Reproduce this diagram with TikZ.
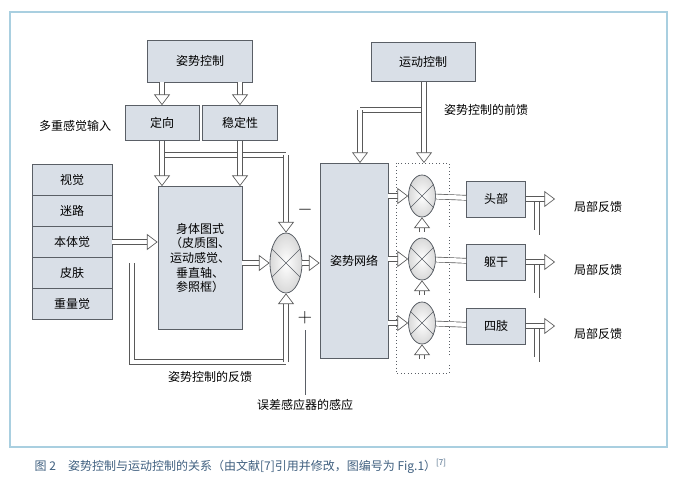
\documentclass[tikz,border=0pt]{standalone}
\usepackage{fontspec}
\setmainfont{Noto Sans CJK SC}
\usetikzlibrary{shapes.geometric, arrows.meta, positioning, calc}
\definecolor{boxfill}{HTML}{D9DFE7}
\definecolor{boxline}{HTML}{5A5F66}
\definecolor{framecol}{HTML}{A9CFE0}
\definecolor{capcol}{HTML}{3F5F7F}
\tikzset{
  blk/.style={draw=boxline, fill=boxfill, line width=0.6pt, font=\small, align=center},
  sumnode/.style={draw=boxline, ellipse, shading=radial, inner color=white, outer color=black!15, line width=0.6pt},
  pipe/.style={draw=black!65, double=white, double distance=3.2pt, line width=0.5pt, -{Triangle[open, fill=white, width=12pt, length=8pt]}},
  pipeline/.style={draw=black!65, double=white, double distance=3.2pt, line width=0.5pt},
  lbl/.style={font=\small},
}
\newcommand{\crossit}[1]{\draw[boxline, line width=0.5pt] (#1.45) -- (#1.225) (#1.135) -- (#1.-45);}
\begin{document}
\begin{tikzpicture}[x=0.75pt, y=-0.75pt]
  \useasboundingbox (0,0) rectangle (674,500);
  \draw[framecol, line width=0.8pt] (10,12) rectangle (667,447);

  % upper blocks
  \node[blk, minimum width=105*0.75pt, minimum height=42*0.75pt] (posctl) at (200,61) {姿势控制};
  \node[blk, minimum width=74*0.75pt, minimum height=35*0.75pt] (orient) at (162,123) {定向};
  \node[blk, minimum width=75*0.75pt, minimum height=35*0.75pt] (stable) at (240,123) {稳定性};
  \node[lbl] (multi) at (75,126) {多重感觉输入};
  \node[blk, minimum width=104*0.75pt, minimum height=39*0.75pt] (motctl) at (423,62) {运动控制};
  \node[lbl] (ffwd) at (486,110) {姿势控制的前馈};

  % sensory stack
  \foreach \t [count=\i] in {视觉, 迷路, 本体觉, 皮肤, 重量觉}
    \node[blk, minimum width=80*0.75pt, minimum height=31*0.75pt] (s\i) at (72,149+31*\i) {\t};

  % body schema and comparator
  \node[blk, minimum width=84*0.75pt, minimum height=143*0.75pt] (body) at (200,258) {身体图式\\（皮质图、\\运动感觉、\\垂直轴、\\参照框）};
  \node[sumnode, minimum width=32*0.75pt, minimum height=60*0.75pt, inner sep=0pt] (sum) at (286,263) {};
  \crossit{sum}
  \node[font=\Large] (minus) at (305,210) {$-$};
  \node[font=\Large] (plus) at (305,318) {$+$};
  \coordinate (errtop) at (305,330);
  \node[lbl] (err) at (305,405) {误差感应器的感应};
  \draw[boxline, line width=0.6pt] (errtop) -- (err.north);

  % posture network
  \node[blk, minimum width=68*0.75pt, minimum height=195*0.75pt] (net) at (354,261) {姿势网络};
  \draw[boxline, dotted, line width=0.6pt] (396,163) rectangle (449,373);

  % effectors
  \foreach \n/\t/\y in {head/头部/199, trunk/躯干/262, limb/四肢/326} {
    \node[sumnode, minimum width=27*0.75pt, minimum height=42*0.75pt, inner sep=0pt] (c\n) at (422,\y-3) {};
    \crossit{c\n}
    \node[blk, minimum width=59*0.75pt, minimum height=36*0.75pt] (\n) at (496,\y) {\t};
    \node[lbl] (fb\n) at (598,\y+8) {局部反馈};
    \coordinate (o\n) at (555,\y);
    \coordinate (r\n) at (537,\y);
    \coordinate (l\n) at ($(c\n.south)+(0,15)$);
    \draw[pipe] (net.east |- c\n) -- (c\n);
    \draw[pipeline] (c\n) -- (\n);
    \draw[pipeline] (r\n) |- (l\n);
    \draw[pipe] (\n) -- (o\n);
    \draw[pipe] (l\n) -- (c\n.south);
  }

  % top-down arrows
  \draw[pipe] (posctl.south -| orient) -- (orient);
  \draw[pipe] (posctl.south -| stable) -- (stable);
  \coordinate (br) at (162,155);
  \coordinate (bre) at (286,155);
  \draw[pipeline] (br) -- (bre);
  \draw[pipe] (bre) -- (sum.north);
  \draw[pipe] (orient) -- (body.north -| orient);
  \draw[pipe] (stable) -- (body.north -| stable);

  % motor control feed-forward
  \coordinate (mbr) at (424,110);
  \coordinate (mbl) at (360,110);
  \coordinate (nettop) at (360,163);
  \draw[pipeline] (mbr) -- (mbl);
  \draw[pipe] (mbl) -- (nettop);
  \draw[pipe] (424,82) -- (424,163);

  % sensory input and feedback
  \coordinate (fbs) at (132,263);
  \coordinate (fbe) at (286,362);
  \draw[pipeline] (fbs) |- (fbe);
  \draw[pipe] (fbe) -- (sum.south);
  \draw[pipe] (s3.east) -- (body.west |- s3);
  \node[lbl] (fbl) at (210,377) {姿势控制的反馈};
  \draw[pipe] (body.east |- sum) -- (sum);
  \draw[pipe] (sum) -- (net.west |- sum);

  % caption
  \node[font=\small, text=capcol, anchor=west] (cap) at (30,466) {图 2\quad 姿势控制与运动控制的关系（由文献[7]引用并修改，图编号为 Fig.1）\textsuperscript{[7]}};
\end{tikzpicture}
\end{document}
